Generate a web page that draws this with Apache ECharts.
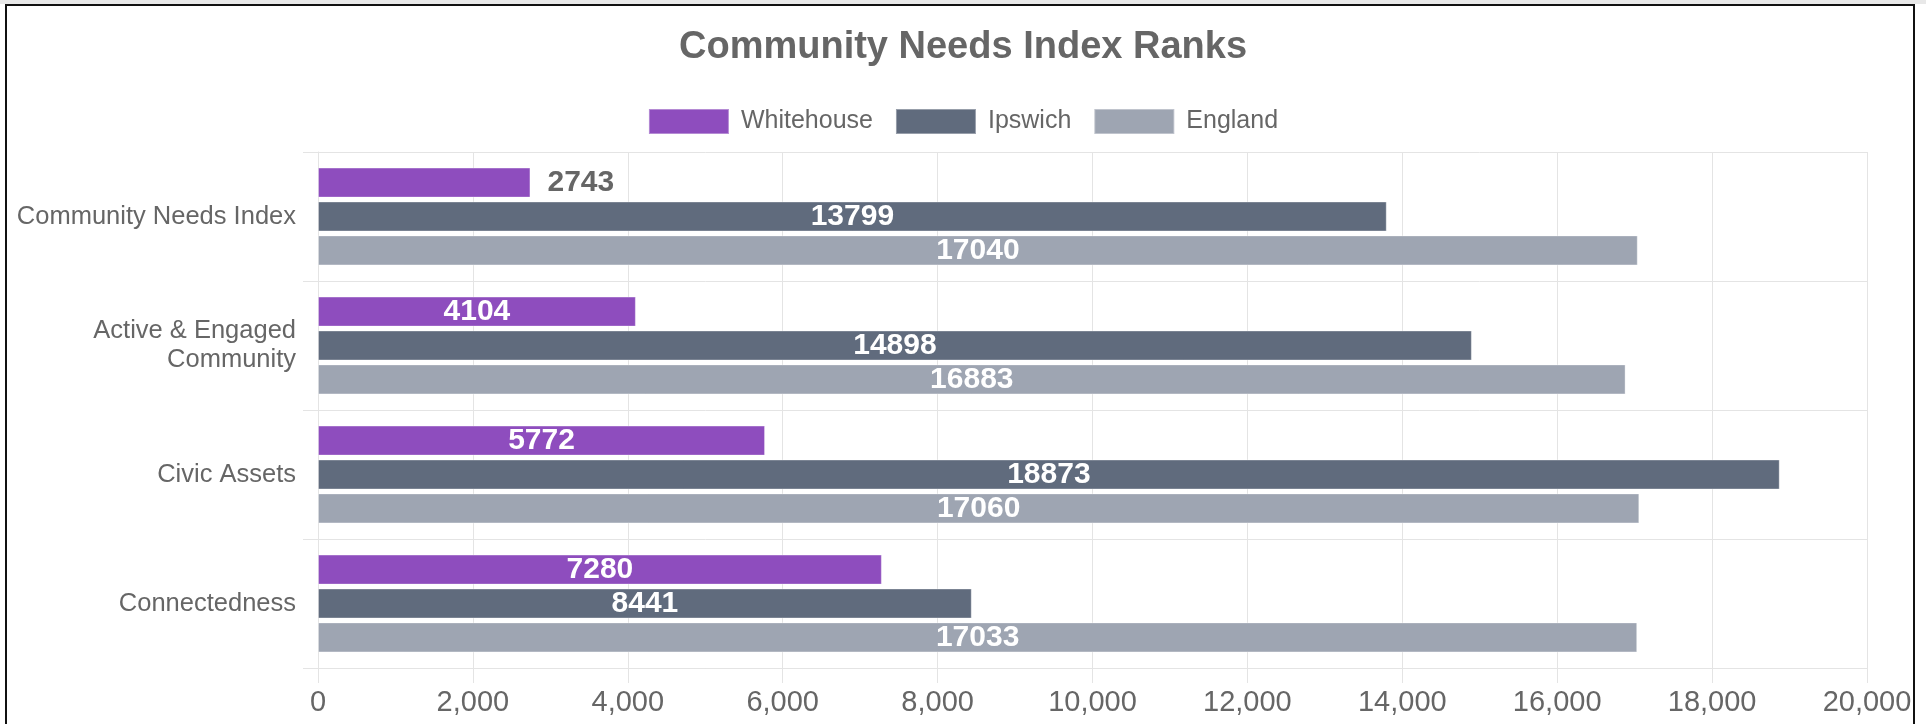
<!DOCTYPE html>
<html>
<head>
<meta charset="utf-8">
<title>Community Needs Index Ranks</title>
<script src="https://cdn.jsdelivr.net/npm/echarts@6/dist/echarts.min.js"></script>
<style>
  html, body { margin: 0; padding: 0; background: #fff; }
  #topStrip { position: absolute; left: 0; top: 0; width: 1926px; height: 4px; background: #e8e8e8; }
  #frame { position: absolute; left: 5px; top: 4px; width: 1906px; height: 800px; border: 2px solid #111; pointer-events: none; }
  #rankChart { position: absolute; left: 0; top: 0; width: 1926px; height: 724px; }
</style>
</head>
<body>
<div id="rankChart"></div>
<div id="topStrip"></div>
<div id="frame"></div>
<script>
  // categories and series values
  var categories = ['Community Needs Index', 'Active & Engaged\nCommunity', 'Civic Assets', 'Connectedness'];
  var whitehouse = [2743, 4104, 5772, 7280];
  var ipswich = [13799, 14898, 18873, 8441];
  var england = [17040, 16883, 17060, 17033];
  var seriesNames = ['Whitehouse', 'Ipswich', 'England'];
  var seriesColors = ['#8e4dbe', '#606b7d', '#9ea5b2'];

  var fontFamily = 'Liberation Sans, Arial, sans-serif';
  var gridColor = '#e4e4e4';

  // whitehouse' first value sits outside its bar, the rest are inside
  function buildData(values, outsideIndex) {
    return values.map(function (v, i) {
      if (i === outsideIndex) {
        return { value: v, label: { position: 'right', distance: 17, color: '#666' } };
      }
      return v;
    });
  }

  function makeSeries(name, values, color, outsideIndex) {
    return {
      name: name,
      type: 'bar',
      barWidth: 30,
      barGap: '13%',
      data: buildData(values, outsideIndex),
      itemStyle: {
        color: color,
        borderColor: 'rgba(255,255,255,0.35)',
        borderWidth: 1
      },
      label: {
        show: true,
        position: 'inside',
        color: '#fff',
        fontSize: 30,
        fontWeight: 'bold',
        fontFamily: fontFamily
      },
      emphasis: { disabled: true }
    };
  }

  var rankOption = {
    animation: false,
    textStyle: { fontFamily: fontFamily },
    title: {
      text: 'Community Needs Index Ranks',
      left: 'center',
      top: 29,
      padding: 0,
      textStyle: {
        color: '#666',
        fontSize: 38,
        fontWeight: 'bold',
        fontFamily: fontFamily
      }
    },
    legend: {
      data: seriesNames,
      left: 'center',
      top: 108,
      padding: 0,
      icon: 'rect',
      itemWidth: 80,
      itemHeight: 25,
      itemGap: 22,
      textStyle: {
        color: '#666',
        fontSize: 25,
        fontFamily: fontFamily,
        padding: [0, 0, 0, 7]
      }
    },
    grid: {
      left: 318,
      right: 59,
      top: 152,
      bottom: 56,
      containLabel: false
    },
    xAxis: {
      type: 'value',
      min: 0,
      max: 20000,
      interval: 2000,
      axisLine: { show: true, lineStyle: { color: gridColor } },
      axisTick: { show: true, length: 15, lineStyle: { color: gridColor } },
      splitLine: { show: true, lineStyle: { color: gridColor } },
      axisLabel: {
        color: '#666',
        fontSize: 29,
        margin: 20,
        fontFamily: fontFamily,
        formatter: function (v) { return v.toLocaleString('en-US'); }
      }
    },
    yAxis: {
      type: 'category',
      inverse: true,
      data: categories,
      axisLine: { show: true, lineStyle: { color: gridColor } },
      axisTick: { show: true, length: 15, lineStyle: { color: gridColor } },
      splitLine: { show: true, lineStyle: { color: gridColor } },
      axisLabel: {
        color: '#666',
        fontSize: 25.5,
        lineHeight: 29,
        margin: 22,
        fontFamily: fontFamily
      }
    },
    series: [
      makeSeries(seriesNames[0], whitehouse, seriesColors[0], 0),
      makeSeries(seriesNames[1], ipswich, seriesColors[1], -1),
      makeSeries(seriesNames[2], england, seriesColors[2], -1)
    ]
  };

  var rankChart = echarts.init(document.getElementById('rankChart'), null, { renderer: 'canvas' });
  rankChart.setOption(rankOption);
</script>
</body>
</html>
